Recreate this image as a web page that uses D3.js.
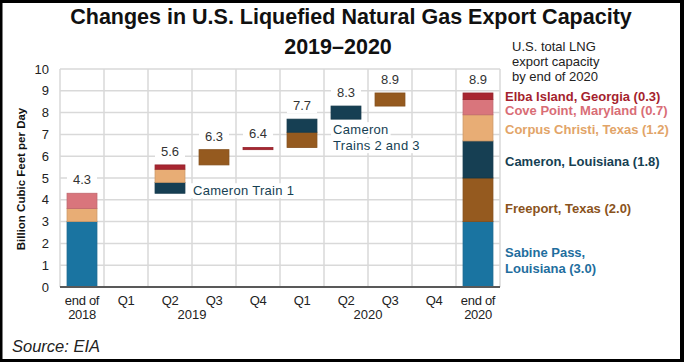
<!DOCTYPE html>
<html>
<head>
<meta charset="utf-8">
<script src="https://cdn.jsdelivr.net/npm/d3@7"></script>
<style>
  html, body { margin: 0; padding: 0; background: #fff; }
  svg { display: block; font-family: "Liberation Sans", Arial, sans-serif; }
</style>
</head>
<body>
<div id="chart"></div>
<script>
// periods along the x axis
const periods = ["end2018", "Q1-2019", "Q2-2019", "Q3-2019", "Q4-2019", "Q1-2020", "Q2-2020", "Q3-2020", "Q4-2020", "end2020"];
const tickLabels = [["end of", "2018"], ["Q1"], ["Q2"], ["Q3"], ["Q4"], ["Q1"], ["Q2"], ["Q3"], ["Q4"], ["end of", "2020"]];
const yearLabels = [{ text: "2019", between: ["Q2-2019", "Q3-2019"] }, { text: "2020", between: ["Q2-2020", "Q3-2020"] }];

const facilities = ["Sabine Pass", "Freeport", "Cameron", "Corpus Christi", "Cove Point", "Elba Island"];
const facilityColors = ["#1a74a1", "#955a1f", "#163f53", "#e8ad75", "#d9757c", "#a82631"];
const legendLabels = [["Sabine Pass,", "Louisiana (3.0)"], ["Freeport, Texas (2.0)"], ["Cameron, Louisiana (1.8)"], ["Corpus Christi, Texas (1.2)"], ["Cove Point, Maryland (0.7)"], ["Elba Island, Georgia (0.3)"]];
const legendTextColors = ["#1f6e9e", "#8a531c", "#163f53", "#e2a468", "#d96d76", "#a51f2e"];

// capacity added in each period, stacked bottom to top
const additions = [
  [["Sabine Pass", 3.0], ["Corpus Christi", 0.6], ["Cove Point", 0.7]],
  [],
  [["Cameron", 0.5], ["Corpus Christi", 0.6], ["Elba Island", 0.2]],
  [["Freeport", 0.7]],
  [["Elba Island", 0.1]],
  [["Freeport", 0.7], ["Cameron", 0.6]],
  [["Cameron", 0.6]],
  [["Freeport", 0.6]],
  []
];
// final stack at end of 2020
const endOf2020 = [["Sabine Pass", 3.0], ["Freeport", 2.0], ["Cameron", 1.7], ["Corpus Christi", 1.2], ["Cove Point", 0.7], ["Elba Island", 0.3]];
const totalLabels = ["4.3", null, "5.6", "6.3", "6.4", "7.7", "8.3", "8.9", null, "8.9"];
const yTicks = [0, 1, 2, 3, 4, 5, 6, 7, 8, 9, 10];

const width = 684, height = 362;
const margin = { top: 69, right: 184, bottom: 75, left: 60 };

const color = d3.scaleOrdinal().domain(facilities).range(facilityColors);

// build segments (waterfall then full stack)
const segments = [];
let running = 0;
additions.forEach((list, i) => {
  list.forEach(([name, v]) => {
    segments.push({ period: periods[i], name, y0: running, y1: running + v });
    running += v;
  });
});
let acc = 0;
endOf2020.forEach(([name, v]) => {
  segments.push({ period: "end2020", name, y0: acc, y1: acc + v });
  acc += v;
});
const tops = {};
segments.forEach((s) => { tops[s.period] = Math.max(tops[s.period] || 0, s.y1); });

const x = d3.scaleBand()
  .domain(periods)
  .range([margin.left, width - margin.right])
  .paddingInner(0.32)
  .paddingOuter(0.16);

const y = d3.scaleLinear()
  .domain([0, 10])
  .range([height - margin.bottom, margin.top]);

const svg = d3.select("#chart")
  .append("svg")
  .attr("width", width)
  .attr("height", height)
  .attr("viewBox", [0, 0, width, height]);

svg.append("rect").attr("width", width).attr("height", height).attr("fill", "#fff");

// title
svg.append("text")
  .attr("x", 351).attr("y", 24)
  .attr("text-anchor", "middle")
  .style("font-size", "21.5px").style("font-weight", "bold").attr("fill", "#111")
  .text("Changes in U.S. Liquefied Natural Gas Export Capacity");
svg.append("text")
  .attr("x", 338).attr("y", 54)
  .attr("text-anchor", "middle")
  .style("font-size", "21.5px").style("font-weight", "bold").attr("fill", "#111")
  .text("2019–2020");

// grid
const step = x.step();
const gridX = d3.range(periods.length + 1).map((i) => margin.left + i * step);
svg.append("g")
  .selectAll("line")
  .data(yTicks.filter((d) => d > 0))
  .join("line")
  .attr("x1", margin.left).attr("x2", width - margin.right)
  .attr("y1", (d) => y(d)).attr("y2", (d) => y(d))
  .attr("stroke", "#d9d9d9").attr("stroke-width", 1.5);
svg.append("g")
  .selectAll("line")
  .data(gridX)
  .join("line")
  .attr("x1", (d) => d).attr("x2", (d) => d)
  .attr("y1", y(10)).attr("y2", y(0))
  .attr("stroke", "#d9d9d9").attr("stroke-width", 1.5);

// y axis
const yAxis = svg.append("g")
  .attr("transform", `translate(${margin.left - 9},0)`)
  .call(d3.axisLeft(y).tickValues(yTicks).tickSize(0).tickPadding(2))
  .call((g) => g.select(".domain").remove());
yAxis.selectAll("text")
  .style("font-size", "13px")
  .style("font-family", "\"Liberation Sans\", Arial, sans-serif")
  .attr("fill", "#222");

svg.append("text")
  .attr("transform", `translate(25,${y(5) + 1}) rotate(-90)`)
  .attr("text-anchor", "middle")
  .style("font-size", "11.5px").style("font-weight", "bold").attr("fill", "#111")
  .text("Billion Cubic Feet per Day");

// bars
svg.append("g")
  .selectAll("rect")
  .data(segments)
  .join("rect")
  .attr("x", (d) => x(d.period))
  .attr("width", x.bandwidth())
  .attr("y", (d) => y(d.y1))
  .attr("height", (d) => y(d.y0) - y(d.y1))
  .attr("fill", (d) => color(d.name))
  .attr("stroke", (d) => d3.color(color(d.name)).darker(0.35))
  .attr("stroke-width", 0.8);

// baseline
svg.append("line")
  .attr("x1", margin.left).attr("x2", width - margin.right)
  .attr("y1", y(0)).attr("y2", y(0))
  .attr("stroke", "#595959").attr("stroke-width", 2);

// total labels
const labelG = svg.append("g");
periods.forEach((p, i) => {
  if (!totalLabels[i]) return;
  const cx = x(p) + x.bandwidth() / 2;
  const by = y(tops[p]) - 9;
  labelG.append("rect")
    .attr("x", cx - 15).attr("y", by - 12).attr("width", 30).attr("height", 15)
    .attr("fill", "#fff");
  labelG.append("text")
    .attr("x", cx).attr("y", by)
    .attr("text-anchor", "middle")
    .style("font-size", "13px").attr("fill", "#333")
    .text(totalLabels[i]);
});

// annotations
const annoColor = "#163f53";
function annotate(lines, x0, y0) {
  const g = svg.append("g");
  lines.forEach((t, k) => {
    const txt = g.append("text")
      .attr("x", x0).attr("y", y0 + k * 16)
      .style("font-size", "13px").style("letter-spacing", "0.3px")
      .attr("fill", annoColor).text(t);
    const bb = txt.node().getBBox();
    g.insert("rect", "text")
      .attr("x", bb.x - 2).attr("y", bb.y).attr("width", bb.width + 4).attr("height", bb.height)
      .attr("fill", "#fff");
  });
}
annotate(["Cameron Train 1"], x("Q2-2019") + x.bandwidth() + 8, y(4.3) + 2);
annotate(["Cameron", "Trains 2 and 3"], x("Q2-2020") + 2, y(7.7) + 15);

// x axis labels
const xl = svg.append("g").style("font-size", "13px").attr("fill", "#222");
periods.forEach((p, i) => {
  tickLabels[i].forEach((t, k) => {
    xl.append("text")
      .attr("x", x(p) + x.bandwidth() / 2)
      .attr("y", 305 + k * 14)
      .attr("text-anchor", "middle")
      .style("letter-spacing", "-0.3px")
      .text(t);
  });
});
yearLabels.forEach((yl) => {
  const cx = (x(yl.between[0]) + x(yl.between[1]) + x.bandwidth()) / 2;
  xl.append("text")
    .attr("x", cx).attr("y", 319)
    .attr("text-anchor", "middle")
    .text(yl.text);
});

// right-side legend
const lg = svg.append("g");
["U.S. total LNG", "export capacity", "by end of 2020"].forEach((t, k) => {
  lg.append("text")
    .attr("x", 512).attr("y", 51 + k * 15)
    .style("font-size", "13px").attr("fill", "#222")
    .text(t);
});
const legendY = [257, 213, 166, 134, 115, 101];
facilities.forEach((f, i) => {
  legendLabels[i].forEach((t, k) => {
    lg.append("text")
      .attr("x", 505).attr("y", legendY[i] + k * 16)
      .style("font-size", "13px").style("font-weight", "bold")
      .attr("fill", legendTextColors[i])
      .text(t);
  });
});

// source
svg.append("text")
  .attr("x", 12).attr("y", 352)
  .style("font-size", "16.5px").style("font-style", "italic").attr("fill", "#222")
  .text("Source: EIA");

// black frame
svg.append("rect").attr("x", 0).attr("y", 0).attr("width", width).attr("height", 3).attr("fill", "#000");
svg.append("rect").attr("x", 0).attr("y", 0).attr("width", 2.5).attr("height", height).attr("fill", "#000");
svg.append("rect").attr("x", width - 4).attr("y", 0).attr("width", 4).attr("height", height).attr("fill", "#000");
svg.append("rect").attr("x", 0).attr("y", height - 3).attr("width", width).attr("height", 3).attr("fill", "#000");
</script>
</body>
</html>
